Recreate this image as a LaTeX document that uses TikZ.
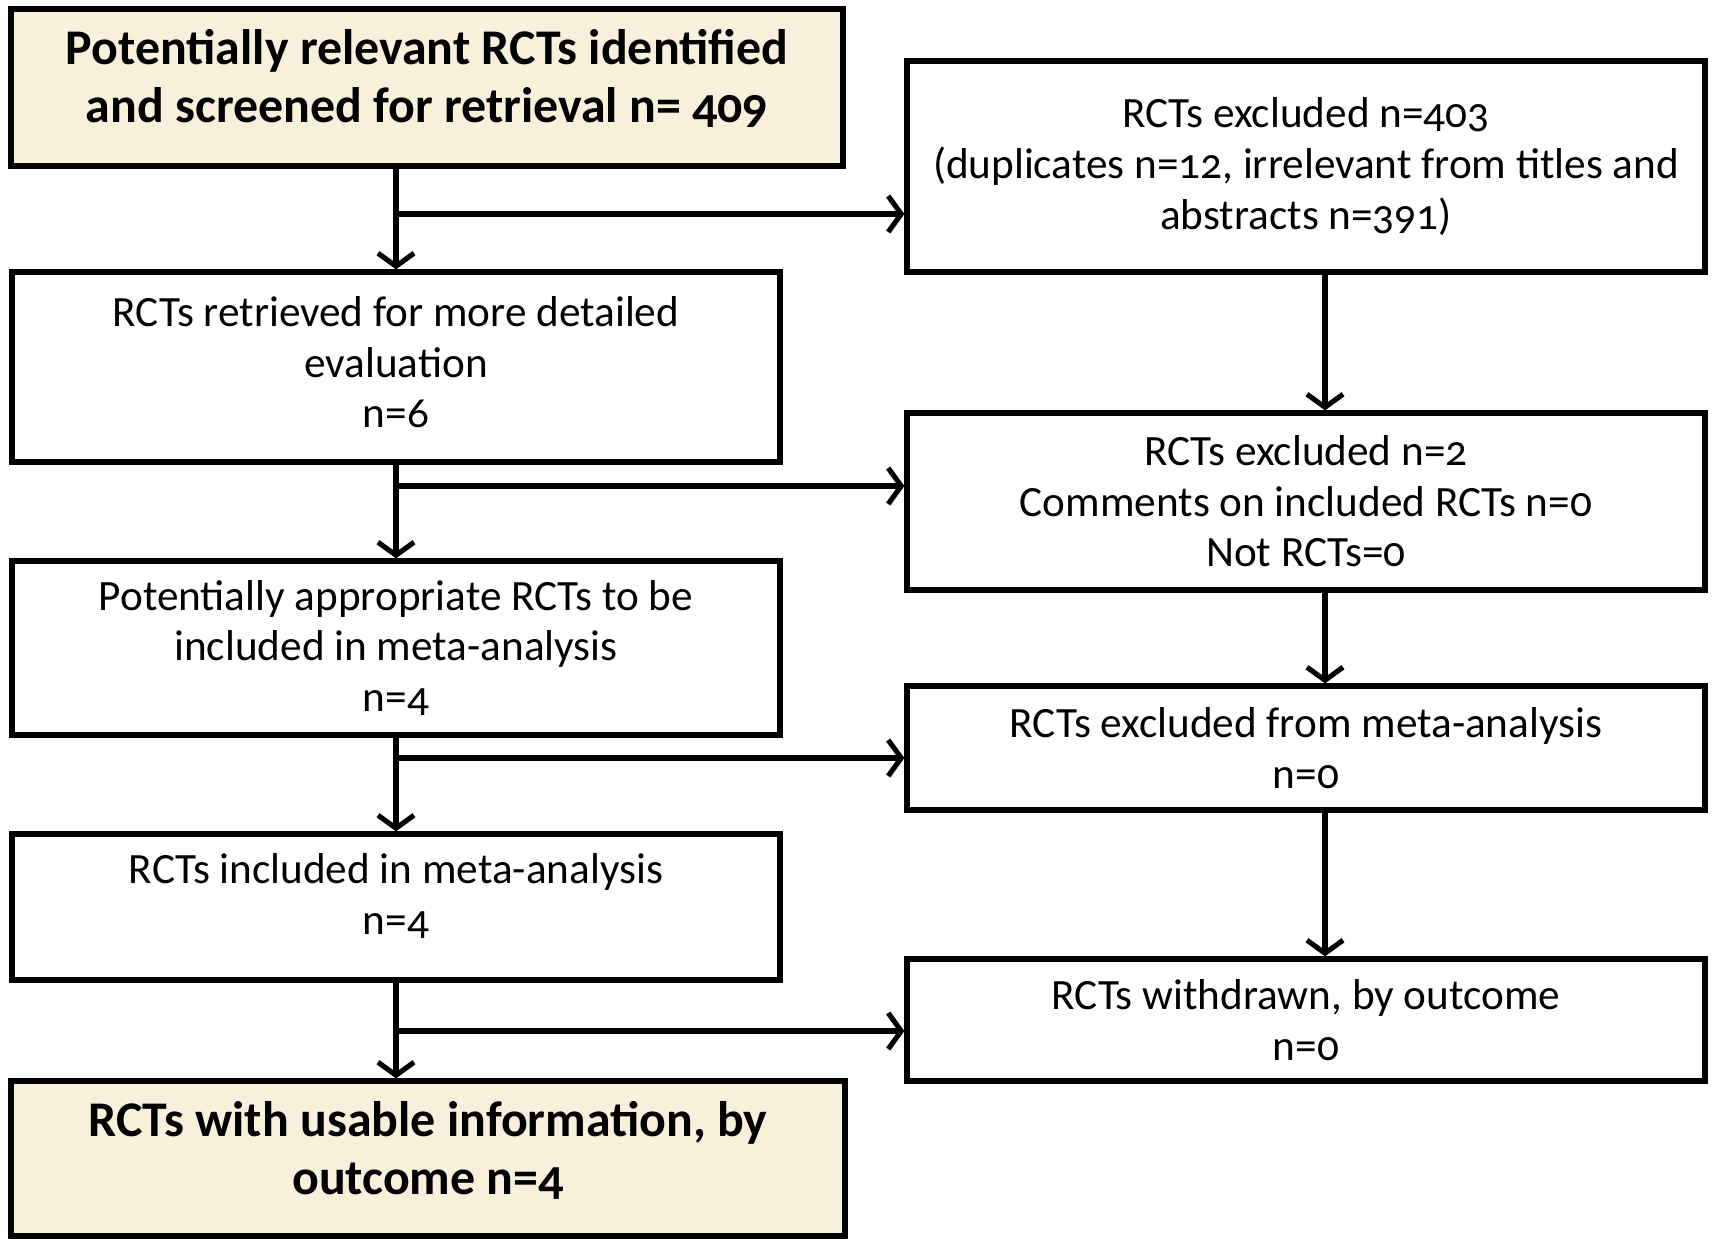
\documentclass[tikz,border=0pt]{standalone}
\usepackage{fontspec}
\setmainfont[Numbers=OldStyle]{Carlito}
\usepackage{tikz}
\usetikzlibrary{arrows.meta,calc,positioning}
\definecolor{beige}{RGB}{249, 240, 220}
\tikzstyle{flow}  =[line width=1.45pt, -{Straight Barb[length=1.3mm,width=3.6mm,line width=1.45pt]}]
\tikzstyle{stage}=[rectangle, draw, line width=1.5pt, align=center,
                    inner sep=2pt, font=\fontsize{12.3}{14.4}\selectfont]
\tikzstyle{endstage}=[stage, fill=beige,
                    font=\bfseries\fontsize{14.2}{16.5}\selectfont]

\begin{document}
\begin{tikzpicture}
    \useasboundingbox (0,0) rectangle (17.12,-12.38);

    % left column
    \node (top)[endstage,minimum width=8.32cm,minimum height=1.57cm] at (4.27,-0.875)
        {Potentially relevant RCTs identified\\and screened for retrieval n= 409\\[-0.7em]};
    \node (retr)[stage,minimum width=7.68cm,minimum height=1.90cm] at (3.96,-3.67)
        {RCTs retrieved for more detailed\\evaluation\\n=6\\[-0.94em]};
    \node (appr)[stage,minimum width=7.68cm,minimum height=1.74cm] at (3.96,-6.48)
        {Potentially appropriate RCTs to be\\included in meta-analysis\\n=4};
    \node (incl)[stage,minimum width=7.68cm,minimum height=1.46cm] at (3.96,-9.07)
        {RCTs included in meta-analysis\\n=4\\[-0.57em]};
    \node (usab)[endstage,minimum width=8.34cm,minimum height=1.55cm] at (4.28,-11.585)
        {RCTs with usable information, by\\outcome n=4\\[-0.75em]};

    % right column
    \node (exc1)[stage,minimum width=7.98cm,minimum height=2.11cm] at (13.06,-1.665)
        {RCTs excluded n=403\\(duplicates n=12, irrelevant from titles and\\abstracts n=391)};
    \node (exc2)[stage,minimum width=7.98cm,minimum height=1.77cm] at (13.06,-5.015)
        {RCTs excluded n=2\\Comments on included RCTs n=0\\Not RCTs=0};
    \node (exc3)[stage,minimum width=7.98cm,minimum height=1.24cm] at (13.06,-7.48)
        {RCTs excluded from meta-analysis\\n=0};
    \node (wdrn)[stage,minimum width=7.98cm,minimum height=1.22cm] at (13.06,-10.20)
        {RCTs withdrawn, by outcome\\n=0};

    % branch points
    \coordinate (b1) at (3.96,-2.14);
    \coordinate (b2) at (3.96,-4.86);
    \coordinate (b3) at (3.96,-7.58);
    \coordinate (b4) at (3.96,-10.31);

    \draw [flow] (retr.north |- top.south) to (retr.north);
    \draw [flow] (appr.north |- retr.south) to (appr.north);
    \draw [flow] (incl.north |- appr.south) to (incl.north);
    \draw [flow] (incl.south) to (incl.south |- usab.north);

    \foreach \b/\r in {b1/exc1,b2/exc2,b3/exc3,b4/wdrn}
        \draw [flow] (\b) to (\b -| \r.west);

    \foreach \i/\j in {exc1/exc2,exc2/exc3,exc3/wdrn}
        \draw [flow] ([xshift=0.19cm]\i.south) to ([xshift=0.19cm]\j.north);

\end{tikzpicture}
\end{document}
